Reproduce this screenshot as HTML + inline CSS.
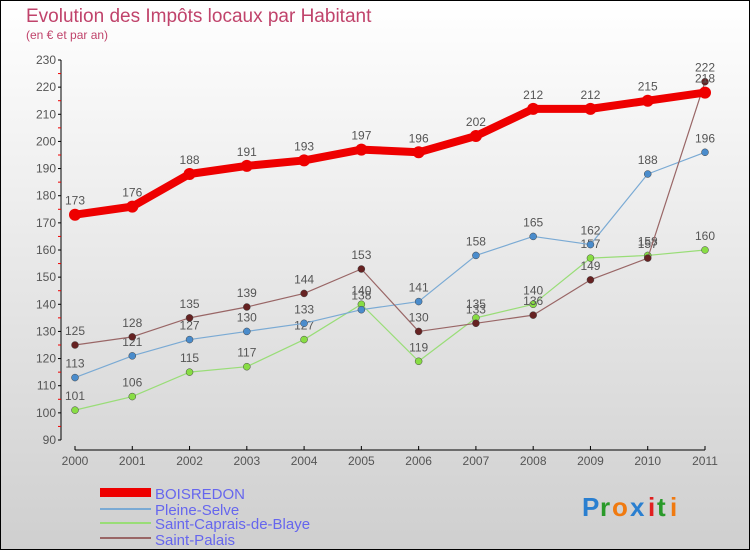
<!DOCTYPE html>
<html><head><meta charset="utf-8"><style>
body{margin:0;}
#wrap{width:750px;height:550px;position:relative;box-sizing:border-box;border:1px solid #000;background:linear-gradient(#fff,#cfcfcf);font-family:"Liberation Sans",sans-serif;overflow:hidden}
</style></head><body>
<div id="wrap">
<svg id="chart" width="750" height="550" style="position:absolute;left:-1px;top:-1px">
<text x="26" y="22" font-size="19" fill="#c0436b">Evolution des Impôts locaux par Habitant</text>
<text x="26" y="39" font-size="12" fill="#c0436b">(en € et par an)</text>
<g id="axes"></g><g id="series"></g>
<g font-size="15" fill="#6666ee">
<rect x="100" y="488" width="51" height="9" fill="#e00"/>
<text x="155" y="499">BOISREDON</text>
<rect x="100" y="508" width="51" height="2" fill="#7aaad4"/>
<text x="155" y="515">Pleine-Selve</text>
<rect x="100" y="522" width="51" height="2" fill="#99dd77"/>
<text x="155" y="529">Saint-Caprais-de-Blaye</text>
<rect x="100" y="537" width="51" height="2" fill="#996666"/>
<text x="155" y="545">Saint-Palais</text>
</g>
<g font-size="26" font-weight="bold">
<text x="582" y="516" fill="#2a7fd0">P</text><text x="600" y="516" fill="#2a9a2a">r</text><text x="612" y="516" fill="#f07a10">o</text><text x="630" y="516" fill="#2a7fd0">x</text><text x="648" y="516" fill="#e02020">i</text><text x="657" y="516" fill="#2a9a2a">t</text><text x="670" y="516" fill="#f07a10">i</text>
</g>
</svg>
</div>
<script>
const years=[2000,2001,2002,2003,2004,2005,2006,2007,2008,2009,2010,2011];
const boisredon=[173,176,188,191,193,197,196,202,212,212,215,218];
const pleineSelve=[113,121,127,130,133,138,141,158,165,162,188,196];
const saintCaprais=[101,106,115,117,127,140,119,135,140,157,158,160];
const saintPalais=[125,128,135,139,144,153,130,133,136,149,157,222];
const yTicks=[90,100,110,120,130,140,150,160,170,180,190,200,210,220,230];
const NS="http://www.w3.org/2000/svg";
const x0=75,x1=705,yb=440,yt=60,vmin=90,vmax=230;
function X(i){return x0+(x1-x0)*i/(years.length-1);}
function Y(v){return yb-(v-vmin)*(yb-yt)/(vmax-vmin);}
function mk(t,a,p){const e=document.createElementNS(NS,t);for(const k in a)e.setAttribute(k,a[k]);p.appendChild(e);return e;}
const axes=document.getElementById('axes');
let ya=mk('line',{x1:61,y1:60,x2:61,y2:440,stroke:'#000'},axes);


yTicks.forEach((v,i)=>{
 mk('line',{x1:58,x2:61,y1:Y(v),y2:Y(v),stroke:'#000'},axes);
 if(i<yTicks.length-1)mk('line',{x1:58,x2:61,y1:Y(v+5),y2:Y(v+5),stroke:'#e00'},axes);
 const t=mk('text',{x:56,y:Y(v)+4,'text-anchor':'end','font-size':12,fill:'#555'},axes);
 t.textContent=v;
 
 
});
let xa=mk('line',{x1:75,y1:450,x2:705,y2:450,stroke:'#000'},axes);


years.forEach((y,i)=>{
 mk('line',{x1:X(i),x2:X(i),y1:446,y2:450,stroke:'#000'},axes);
 const t=mk('text',{x:X(i),y:465,'text-anchor':'middle','font-size':12,fill:'#555'},axes);
 t.textContent=y;
 
 
});
const sg=document.getElementById('series');
function series(data,color,w,r,dot,name){
 const g=mk('g',{},sg);
 
 
 mk('polyline',{points:data.map((v,i)=>X(i)+','+Y(v)).join(' '),fill:'none',stroke:color,'stroke-width':w,'stroke-linejoin':'round'},g);
 data.forEach((v,i)=>{
  const c=mk('circle',{cx:X(i),cy:Y(v),r:r,fill:dot,stroke:'#444','stroke-width':r>4?0:0.5},g);
  
  
  const t=mk('text',{x:X(i),y:Y(v)-10,'text-anchor':'middle','font-size':12,fill:'#555'},g);
  t.textContent=v;
  
  
 });
}
series(saintCaprais,'#99dd77',1.2,3.5,'#88dd44','series-saint-caprais');
series(pleineSelve,'#7aaad4',1.2,3.5,'#4a8ccc','series-pleine-selve');
series(saintPalais,'#996666',1.2,3.5,'#662222','series-saint-palais');
series(boisredon,'#ee0000',8,6,'#ee0000','series-boisredon');
</script>
</body></html>
